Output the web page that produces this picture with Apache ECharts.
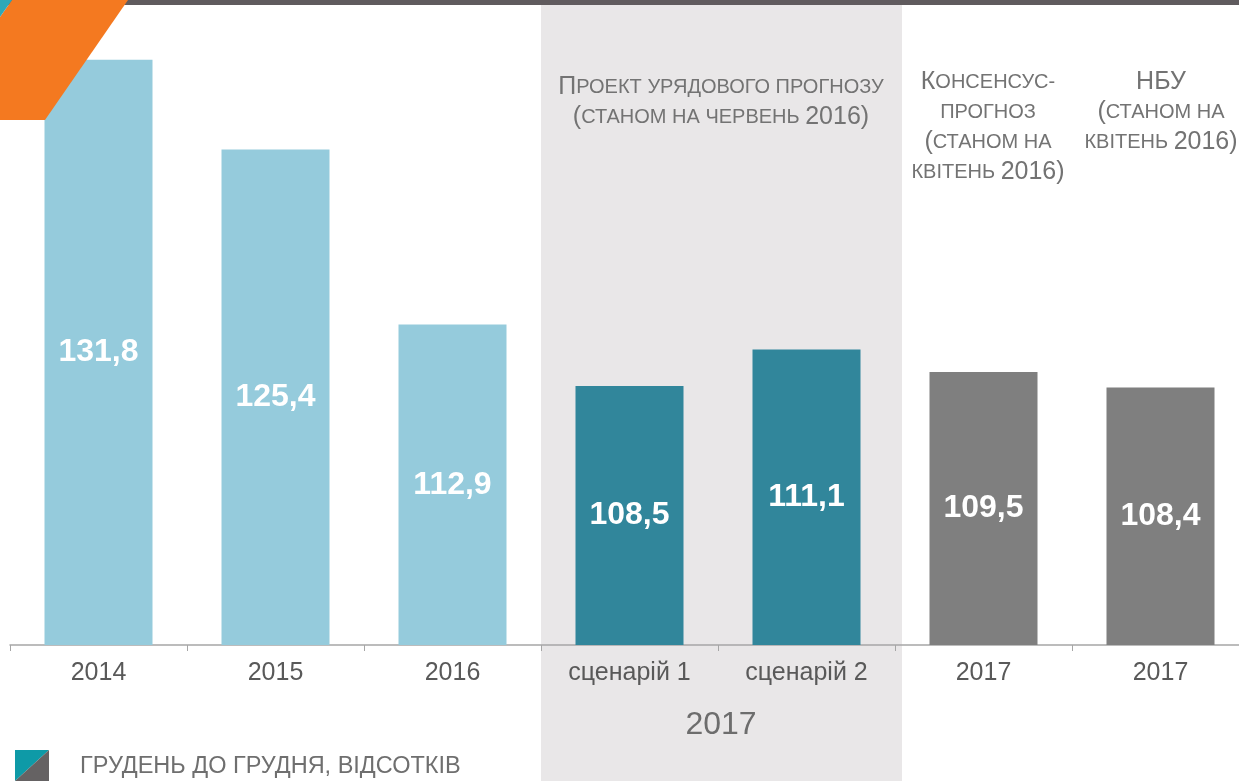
<!DOCTYPE html>
<html style="height:100%;">
<head>
  <meta charset="utf-8">
  <script src="https://cdn.jsdelivr.net/npm/echarts@6/dist/echarts.min.js"></script>
  <style>
    body { margin: 0; background: #fff; }
    #chart { width: 1239px; height: 781px; }
  </style>
</head>
<body>
  <div id="chart"></div>
  <script>
    // дані
    const categories = ['2014', '2015', '2016', 'сценарій 1', 'сценарій 2', '2017', '2017'];
    const values = [131.8, 125.4, 112.9, 108.5, 111.1, 109.5, 108.4];
    const barColors = ['#95cbdc', '#95cbdc', '#95cbdc', '#31869b', '#31869b', '#7f7f7f', '#7f7f7f'];

    const FONT = '"Liberation Sans", Arial, sans-serif';
    const chart = echarts.init(document.getElementById('chart'));

    // підписи з "капітеллю"
    const rich = {
      b: { fontSize: 25, fill: '#737373', fontFamily: FONT, lineHeight: 30 },
      s: { fontSize: 20, fill: '#737373', fontFamily: FONT, lineHeight: 30 }
    };

    const option = {
      backgroundColor: '#fff',
      animation: false,
      grid: { left: 10, top: 15, width: 1239, height: 630, outerBoundsMode: 'none', containLabel: false },
      xAxis: {
        type: 'category',
        data: categories,
        axisLine: { lineStyle: { color: '#a6a6a6', width: 1.5 } },
        axisTick: { show: true, length: 6, lineStyle: { color: '#a6a6a6' } },
        axisLabel: { color: '#595959', fontSize: 25, fontFamily: FONT, margin: 16 }
      },
      yAxis: { type: 'value', min: 90, max: 135, show: false, splitLine: { show: false } },
      series: [{
        type: 'bar',
        barWidth: 108,
        data: values.map((v, i) => ({ value: v, itemStyle: { color: barColors[i] } })),
        label: {
          show: true,
          position: 'inside',
          color: '#fff',
          fontWeight: 'bold',
          fontSize: 32,
          fontFamily: FONT,
          formatter: p => p.value.toFixed(1).replace('.', ',')
        }
      }],
      graphic: [
        // сіра смуга 2017 (уряд)
        { type: 'rect', z: -1, shape: { x: 541, y: 5, width: 361, height: 776 }, style: { fill: '#e9e7e8' } },
        // верхня лінія
        { type: 'rect', z: 5, shape: { x: 0, y: 0, width: 1239, height: 5 }, style: { fill: '#605b5e' } },
        // помаранчевий кут
        { type: 'polygon', z: 30, shape: { points: [[12, 0], [128, 0], [45, 120], [0, 120], [0, 17]] }, style: { fill: '#f47920' } },
        { type: 'polygon', z: 30, shape: { points: [[0, 0], [12, 0], [0, 17]] }, style: { fill: '#2fa8b8' } },
        // підписи груп
        {
          type: 'text', z: 20, x: 721, y: 72,
          style: {
            text: '{b|П}{s|РОЕКТ УРЯДОВОГО ПРОГНОЗУ}\n{b|(}{s|СТАНОМ НА ЧЕРВЕНЬ }{b|2016)}',
            rich: rich, fill: '#737373', align: 'center', verticalAlign: 'top'
          }
        },
        {
          type: 'text', z: 20, x: 988, y: 67,
          style: {
            text: '{b|К}{s|ОНСЕНСУС-}\n{s|ПРОГНОЗ}\n{b|(}{s|СТАНОМ НА}\n{s|КВІТЕНЬ }{b|2016)}',
            rich: rich, fill: '#737373', align: 'center', verticalAlign: 'top'
          }
        },
        {
          type: 'text', z: 20, x: 1161, y: 67,
          style: {
            text: '{b|НБУ}\n{b|(}{s|СТАНОМ НА}\n{s|КВІТЕНЬ }{b|2016)}',
            rich: rich, fill: '#737373', align: 'center', verticalAlign: 'top'
          }
        },
        // рік під сценаріями
        {
          type: 'text', z: 20, x: 721, y: 725,
          style: { text: '2017', font: '32px ' + FONT, fill: '#6d6d6d', align: 'center', verticalAlign: 'middle' }
        },
        // легенда
        { type: 'polygon', z: 20, shape: { points: [[15, 750], [49, 750], [15, 781]] }, style: { fill: '#0e9aa7' } },
        { type: 'polygon', z: 20, shape: { points: [[49, 750], [49, 781], [15, 781]] }, style: { fill: '#656263' } },
        {
          type: 'text', z: 20, x: 80, y: 767,
          style: { text: 'ГРУДЕНЬ ДО ГРУДНЯ, ВІДСОТКІВ', font: '23.5px ' + FONT, fill: '#6f6f6f', align: 'left', verticalAlign: 'middle' }
        }
      ]
    };

    chart.setOption(option);
  </script>
</body>
</html>
